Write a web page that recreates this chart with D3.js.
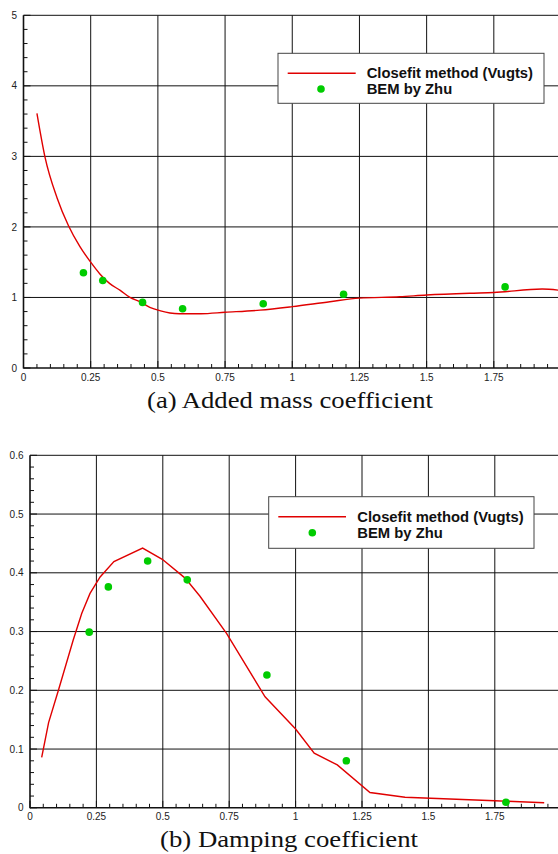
<!DOCTYPE html>
<html><head><meta charset="utf-8">
<script src="https://cdn.jsdelivr.net/npm/d3@7"></script>
<style>body{margin:0;background:#fff}svg{display:block}</style>
</head><body>
<script>
// ---- data ----
const xTickLabels = ["0","0.25","0.5","0.75","1","1.25","1.5","1.75","2"];
const xTicks = [0,0.25,0.5,0.75,1,1.25,1.5,1.75,2];
const yTicksA = [0,1,2,3,4,5];
const yTickLabelsA = ["0","1","2","3","4","5"];
const yTicksB = [0,0.1,0.2,0.3,0.4,0.5,0.6];
const yTickLabelsB = ["0","0.1","0.2","0.3","0.4","0.5","0.6"];

const fitX_A = [0.05,0.08,0.125,0.167,0.21,0.25,0.285,0.32,0.36,0.396,0.433,0.47,0.51,0.545,0.58,0.66,0.75,0.88,1.0,1.14,1.25,1.4,1.5,1.66,1.75,1.93,2.0];
const fitY_A = [3.61,2.99,2.41,2.02,1.72,1.50,1.33,1.2,1.1,1.0,0.94,0.86,0.81,0.78,0.77,0.77,0.79,0.82,0.87,0.94,0.99,1.01,1.035,1.06,1.07,1.12,1.10];
const bemX = [0.223,0.295,0.443,0.592,0.892,1.191,1.792];
const bemY_A = [1.35,1.24,0.93,0.84,0.91,1.045,1.15];

const fitX_B = [0.044,0.07,0.107,0.163,0.195,0.226,0.264,0.316,0.424,0.498,0.584,0.64,0.74,0.885,1.0,1.07,1.157,1.28,1.412,1.75,1.936];
const fitY_B = [0.086,0.145,0.2,0.286,0.331,0.365,0.393,0.419,0.442,0.423,0.391,0.36,0.297,0.189,0.134,0.093,0.073,0.026,0.018,0.012,0.0087];
const bemY_B = [0.299,0.376,0.42,0.388,0.226,0.080,0.0094];

const legendLabels = ["Closefit method (Vugts)","BEM by Zhu"];
const captions = ["(a) Added mass coefficient","(b) Damping coefficient"];

const W = 558, H = 854;
const svg = d3.select("body").append("svg").attr("width",W).attr("height",H);

function panel(o){
  const g = svg.append("g");
  const x = d3.scaleLinear().domain([0,2]).range([o.x0,o.x1]);
  const y = d3.scaleLinear().domain([0,o.yMax]).range([o.y0,o.y1]);
  g.selectAll(".vg").data(xTicks.slice(1)).enter().append("line")
    .attr("x1",d=>x(d)).attr("x2",d=>x(d)).attr("y1",o.y0).attr("y2",o.y1)
    .attr("stroke","#111").attr("stroke-width",1);
  g.selectAll(".hg").data(o.yTicks.slice(1)).enter().append("line")
    .attr("x1",o.x0).attr("x2",o.x1).attr("y1",d=>y(d)).attr("y2",d=>y(d))
    .attr("stroke","#111").attr("stroke-width",1);
  const xm = d3.range(0,2.0001,0.05).map(v=>+v.toFixed(2));
  g.selectAll(".xm").data(xm).enter().append("line")
    .attr("x1",d=>x(d)).attr("x2",d=>x(d)).attr("y1",o.y0).attr("y2",d=>o.y0-(Math.abs(d/0.25-Math.round(d/0.25))<1e-6?7:4))
    .attr("stroke","#111").attr("stroke-width",1);
  const ym = d3.range(0,o.yMax+1e-9,o.yMinor);
  g.selectAll(".ym").data(ym).enter().append("line")
    .attr("x1",o.x0).attr("x2",d=>o.x0+(Math.abs(d/o.yMajor-Math.round(d/o.yMajor))<1e-6?7:4))
    .attr("y1",d=>y(d)).attr("y2",d=>y(d))
    .attr("stroke","#111").attr("stroke-width",1);
  g.append("line").attr("x1",o.x0).attr("x2",o.x0).attr("y1",o.y0+0.5).attr("y2",o.y1).attr("stroke","#111").attr("stroke-width",1.6);
  g.append("line").attr("x1",o.x0).attr("x2",o.x1).attr("y1",o.y0).attr("y2",o.y0).attr("stroke","#111").attr("stroke-width",1.6);
  g.selectAll(".xl").data(xTicks).enter().append("text")
    .attr("x",d=>x(d)).attr("y",o.y0+12.6).attr("text-anchor","middle")
    .attr("font-family","Liberation Sans, Arial, sans-serif").attr("font-size",10).attr("fill","#222")
    .text((d,i)=>xTickLabels[i]);
  g.selectAll(".yl").data(o.yTicks).enter().append("text")
    .attr("x",o.x0-6.5).attr("y",d=>y(d)+3.6).attr("text-anchor","end")
    .attr("font-family","Liberation Sans, Arial, sans-serif").attr("font-size",10).attr("fill","#222")
    .text((d,i)=>o.yLabels[i]);
  const pts = o.fx.map((v,i)=>[v,o.fy[i]]);
  g.append("path").datum(pts)
    .attr("d",d3.line().curve(o.curve).x(d=>x(d[0])).y(d=>y(d[1])))
    .attr("fill","none").attr("stroke","#e00000").attr("stroke-width",1.4);
  g.selectAll(".dot").data(bemX.map((v,i)=>[v,o.by[i]])).enter().append("circle")
    .attr("cx",d=>x(d[0])).attr("cy",d=>y(d[1])).attr("r",3.8).attr("fill","#00cc00");
  const L = o.leg;
  g.append("rect").attr("x",L.x).attr("y",L.y).attr("width",L.w).attr("height",L.h)
    .attr("fill","#fff").attr("stroke","#444").attr("stroke-width",1);
  g.append("line").attr("x1",L.lx0).attr("x2",L.lx1).attr("y1",L.ly).attr("y2",L.ly)
    .attr("stroke","#e00000").attr("stroke-width",1.4);
  g.append("circle").attr("cx",L.dx).attr("cy",L.dy).attr("r",3.8).attr("fill","#00cc00");
  legendLabels.forEach((t,i)=>{
    g.append("text").attr("x",L.tx).attr("y",L.ty+i*16)
      .attr("font-family","Liberation Sans, Arial, sans-serif").attr("font-weight","bold")
      .attr("font-size",14.8).attr("fill","#111").text(t);
  });
  g.append("text").attr("x",o.capX).attr("y",o.capY)
    .style("font-family","\"Liberation Serif\", \"Times New Roman\", Times, serif").attr("font-size",23)
    .attr("textLength",o.capW).attr("lengthAdjust","spacingAndGlyphs").attr("fill","#111")
    .text(o.cap);
}

panel({x0:23.5,x1:561,y0:368,y1:15.3,yMax:5,yMajor:1,yMinor:0.2,yTicks:yTicksA,yLabels:yTickLabelsA,
  fx:fitX_A,fy:fitY_A,by:bemY_A,curve:d3.curveMonotoneX,
  leg:{x:278,y:53.3,w:266,h:50,lx0:287.7,lx1:355.7,ly:73.3,dx:321,dy:89,tx:366.7,ty:77.5},
  cap:captions[0],capX:147,capY:408,capW:286});
panel({x0:30,x1:561.2,y0:807.8,y1:455.3,yMax:0.6,yMajor:0.1,yMinor:0.02,yTicks:yTicksB,yLabels:yTickLabelsB,
  fx:fitX_B,fy:fitY_B,by:bemY_B,curve:d3.curveLinear,
  leg:{x:268.7,y:496.7,w:265.3,h:51.6,lx0:278.3,lx1:346,ly:516.7,dx:312.3,dy:532.7,tx:357.3,ty:521.7},
  cap:captions[1],capX:160,capY:847,capW:258});
</script>
</body></html>
